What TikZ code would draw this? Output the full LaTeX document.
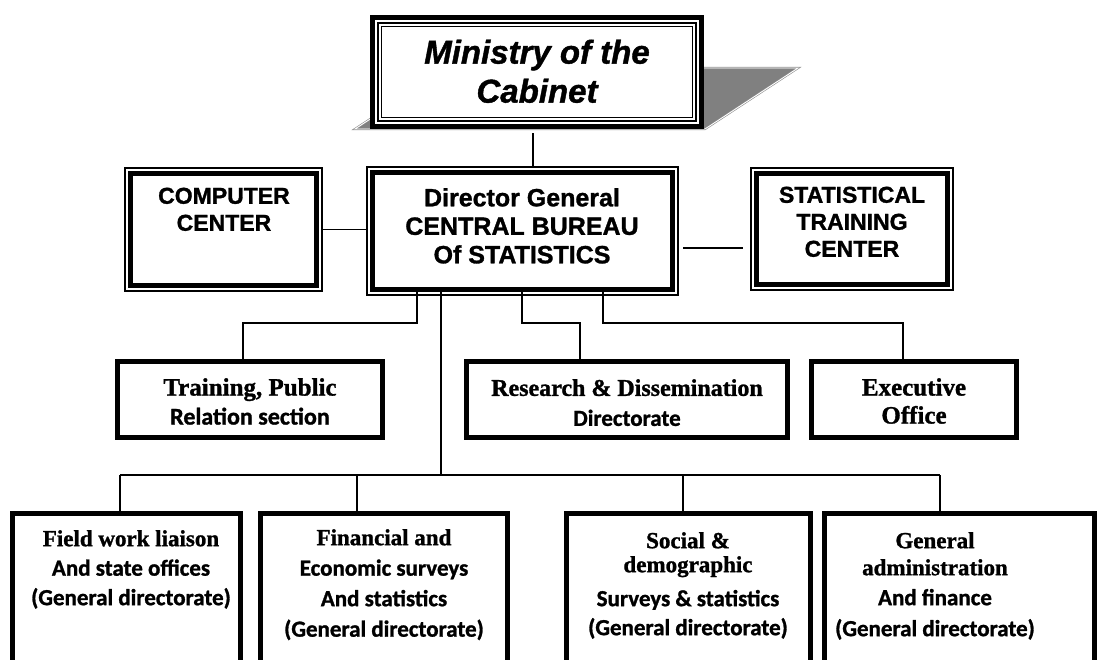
\documentclass[tikz,border=0pt]{standalone}
\usepackage{fontspec}
\newfontfamily\ars{Liberation Sans}[FakeBold=1.2]
\newfontfamily\tnr{Liberation Serif}[FakeBold=1.2]
\newfontfamily\crl{Carlito}[FakeBold=1.2]
\newcommand\lsr[1]{{\tnr #1}}
\newcommand\lcl[1]{{\crl #1}}
\begin{document}
\begin{tikzpicture}[x=1pt,y=-1pt,
  lnk/.style={line width=1.3pt},
  shadowpoly/.style={fill=black!50, draw=black!45, double=white, double distance=0.9pt, line width=0.6pt},
  thinbox/.style={draw, fill=white, line width=1.3pt, inner sep=0pt, outer sep=0pt},
  heavybox/.style={draw, fill=white, line width=5pt, inner sep=0pt, outer sep=0pt},
  thickin/.style={line width=4.5pt},
  finline/.style={line width=1.2pt},
  lbl/.style={inner sep=0pt, align=center, anchor=north}]
\useasboundingbox (0,0) rectangle (1105,659);
\clip (0,0) rectangle (1105,659);

% shadow of the ministry box
\path[shadowpoly] (355,129) -- (705,129) -- (798,68) -- (448,68) -- cycle;

% Ministry
\node[heavybox, minimum width=329, minimum height=109] (min) at (537,72) {};
\draw[finline] ([shift={(5.5,5.5)}]min.north west) rectangle ([shift={(-5.5,-5.5)}]min.south east);
\draw[finline] ([shift={(9,9)}]min.north west) rectangle ([shift={(-9,-9)}]min.south east);
\node[lbl, font=\ars\bfseries\itshape\fontsize{33}{39}\selectfont] (mint) at (537,39.5) {Ministry of the\\Cabinet};

% Director General
\node[thinbox, minimum width=311, minimum height=128] (dg) at (522.5,231) {};
\draw[thickin] ([shift={(5.5,5.5)}]dg.north west) rectangle ([shift={(-5.5,-5.5)}]dg.south east);
\node[lbl, font=\ars\bfseries\fontsize{25}{28.5}\selectfont] (dgt) at (522,188) {Director General\\CENTRAL BUREAU\\Of STATISTICS};

% Computer center
\node[thinbox, minimum width=197, minimum height=123] (cc) at (223.5,229.5) {};
\draw[thickin] ([shift={(5.5,5.5)}]cc.north west) rectangle ([shift={(-5.5,-5.5)}]cc.south east);
\node[lbl, font=\ars\bfseries\fontsize{23}{27}\selectfont] (cct) at (224,187.5) {COMPUTER\\CENTER};

% Statistical training center
\node[thinbox, minimum width=202, minimum height=122] (stc) at (852,229) {};
\draw[thickin] ([shift={(5.5,5.5)}]stc.north west) rectangle ([shift={(-5.5,-5.5)}]stc.south east);
\node[lbl, font=\ars\bfseries\fontsize{23}{27}\selectfont] (stct) at (852,186.5) {STATISTICAL\\TRAINING\\CENTER};

% middle row
\node[heavybox, minimum width=265, minimum height=76] (tr) at (250,399.5) {};
\node[heavybox, minimum width=321, minimum height=76] (rd) at (627,399.5) {};
\node[heavybox, minimum width=205, minimum height=76] (ex) at (914,399.5) {};
\node[lbl, font=\bfseries\fontsize{25}{29}\selectfont] (trt) at (250,378) {\lsr{Training, Public}\\\lcl{\fontsize{24}{29}\selectfont Relation section}};
\node[lbl, font=\bfseries\fontsize{24}{30}\selectfont] (rdt) at (627,379) {\lsr{Research \& Dissemination}\\\lcl{\fontsize{23}{30}\selectfont Directorate}};
\node[lbl, font=\bfseries\fontsize{25}{28}\selectfont] (ext) at (914,378) {\lsr{Executive}\\\lsr{Office}};

% bottom row
\node[heavybox, minimum width=228, minimum height=206.5] (f1) at (126.5,616.75) {};
\node[heavybox, minimum width=247, minimum height=206.5] (f2) at (384,616.75) {};
\node[heavybox, minimum width=244, minimum height=206.5] (f3) at (688.5,616.75) {};
\node[heavybox, minimum width=270, minimum height=206.5] (f4) at (959.5,616.75) {};
\node[lbl, font=\bfseries\fontsize{23}{29.5}\selectfont] (f1t) at (131,530) {\lsr{Field work liaison}\\\lcl{And state offices}\\\lcl{(General directorate)}};
\node[lbl, font=\bfseries\fontsize{23}{30.5}\selectfont] (f2t) at (384,529) {\lsr{Financial and}\\\lcl{Economic surveys}\\\lcl{And statistics}\\\lcl{(General directorate)}};
\node[lbl, font=\bfseries\fontsize{23}{29}\selectfont] (f3t) at (688,532) {\lsr{Social \&}\\[-5pt]\lsr{demographic}\\[5pt]\lcl{Surveys \& statistics}\\\lcl{(General directorate)}};
\node[lbl, font=\bfseries\fontsize{23}{30}\selectfont] (f4t) at (935,532) {\lsr{General}\\[-3pt]\lsr{administration}\\\lcl{And finance}\\[1pt]\lcl{(General directorate)}};

% connectors
\coordinate (j0) at (533,150);
\draw[lnk, shorten <=6.5pt] (j0 |- min.south) -- (j0 |- dg.north);
\draw[lnk] (cc.east) -- (cc.east -| dg.west);
\coordinate (hs) at (700,248);
\draw[lnk, shorten <=5pt, shorten >=8pt] (hs -| dg.east) -- (hs -| stc.west);

\coordinate (d1) at (417,323); \coordinate (k1) at (243,323);
\coordinate (d3) at (522,323); \coordinate (k3) at (580,323);
\coordinate (d4) at (603,323); \coordinate (k4) at (903,323);
\draw[lnk, shorten <=-7pt] (d1 |- dg.south) -- (d1) -- (k1) -- (k1 |- tr.north);
\draw[lnk, shorten <=-7pt] (d3 |- dg.south) -- (d3) -- (k3) -- (k3 |- rd.north);
\draw[lnk, shorten <=-7pt] (d4 |- dg.south) -- (d4) -- (k4) -- (k4 |- ex.north);

\coordinate (b0) at (441,475);
\draw[lnk, shorten <=-7pt] (b0 |- dg.south) -- (b0);
\coordinate (b1) at (120,475); \coordinate (b2) at (357,475);
\coordinate (b3) at (683,475); \coordinate (b4) at (940,475);
\draw[lnk] (b1) -- (b4);
\draw[lnk] (b1) -- (b1 |- f1.north);
\draw[lnk] (b2) -- (b2 |- f2.north);
\draw[lnk] (b3) -- (b3 |- f3.north);
\draw[lnk] (b4) -- (b4 |- f4.north);
\end{tikzpicture}
\end{document}
